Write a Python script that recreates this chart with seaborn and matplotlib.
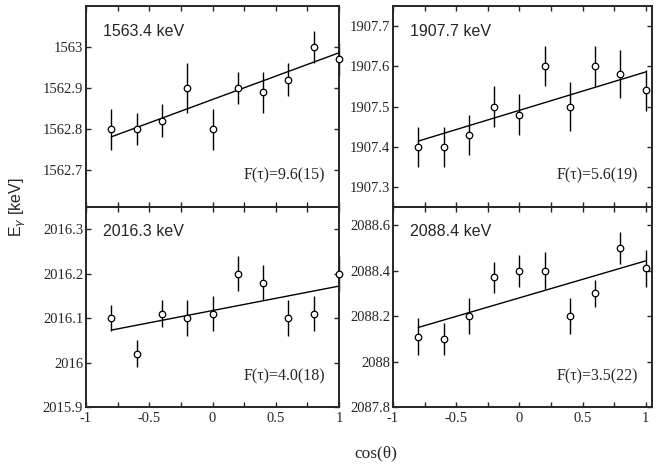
import matplotlib
matplotlib.use("Agg")
import matplotlib.pyplot as plt
from matplotlib.ticker import MultipleLocator
import seaborn as sns
import pandas as pd

# cos(theta) positions of the detector rings
cos_theta = [-0.8, -0.6, -0.4, -0.2, 0.0, 0.2, 0.4, 0.6, 0.8, 1.0]

# measured gamma energies (keV) and errors, one list per line
e_1563 = [1562.80, 1562.80, 1562.82, 1562.90, 1562.80, 1562.90, 1562.89, 1562.92, 1563.00, 1562.97]
err_1563 = [0.05, 0.04, 0.04, 0.06, 0.05, 0.04, 0.05, 0.04, 0.04, 0.04]

e_1907 = [1907.40, 1907.40, 1907.43, 1907.50, 1907.48, 1907.60, 1907.50, 1907.60, 1907.58, 1907.54]
err_1907 = [0.05, 0.05, 0.05, 0.05, 0.05, 0.05, 0.06, 0.05, 0.06, 0.05]

e_2016 = [2016.10, 2016.02, 2016.11, 2016.10, 2016.11, 2016.20, 2016.18, 2016.10, 2016.11, 2016.20]
err_2016 = [0.03, 0.03, 0.03, 0.04, 0.04, 0.04, 0.04, 0.04, 0.04, 0.04]

e_2088 = [2088.11, 2088.10, 2088.20, 2088.37, 2088.40, 2088.40, 2088.20, 2088.30, 2088.50, 2088.41]
err_2088 = [0.08, 0.07, 0.08, 0.07, 0.07, 0.08, 0.08, 0.06, 0.07, 0.08]

# linear fit: energy at cos=-0.8 and at cos=1
fit_x = [-0.8, 1.0]
fit_1563 = [1562.781, 1562.986]
fit_1907 = [1907.414, 1907.586]
fit_2016 = [2016.073, 2016.172]
fit_2088 = [2088.150, 2088.443]

labels = ["1563.4 keV", "1907.7 keV", "2016.3 keV", "2088.4 keV"]
f_tau = ["F(\u03c4)=9.6(15)", "F(\u03c4)=5.6(19)", "F(\u03c4)=4.0(18)", "F(\u03c4)=3.5(22)"]
x_ticks = [-1, -0.5, 0, 0.5, 1]
x_ticklabels = ["-1", "-0.5", "0", "0.5", "1"]

panels = [
    (e_1563, err_1563, fit_1563, (1562.61, 1563.10), [1562.7, 1562.8, 1562.9, 1563.0], ["1562.7", "1562.8", "1562.9", "1563"]),
    (e_1907, err_1907, fit_1907, (1907.25, 1907.75), [1907.3, 1907.4, 1907.5, 1907.6, 1907.7], ["1907.3", "1907.4", "1907.5", "1907.6", "1907.7"]),
    (e_2016, err_2016, fit_2016, (2015.9, 2016.35), [2015.9, 2016.0, 2016.1, 2016.2, 2016.3], ["2015.9", "2016", "2016.1", "2016.2", "2016.3"]),
    (e_2088, err_2088, fit_2088, (2087.8, 2088.68), [2087.8, 2088.0, 2088.2, 2088.4, 2088.6], ["2087.8", "2088", "2088.2", "2088.4", "2088.6"]),
]

sns.set_style("ticks")
serif = ["Liberation Serif", "DejaVu Serif"]
sans = ["Liberation Sans", "DejaVu Sans"]
plt.rcParams['font.family'] = serif

fig = plt.figure(figsize=(6.65, 4.66), dpi=100)
rects = [
    [0.1293, 0.5558, 0.3805, 0.4313],
    [0.5910, 0.5558, 0.3895, 0.4313],
    [0.1293, 0.1266, 0.3805, 0.4292],
    [0.5910, 0.1266, 0.3895, 0.4292],
]

for i, (e, err, fit, ylim, yt, ytl) in enumerate(panels):
    ax = fig.add_axes(rects[i])
    df = pd.DataFrame({"cos": cos_theta, "E": e, "err": err})
    fit_df = pd.DataFrame({"cos": fit_x, "E": fit})
    ax.errorbar(df["cos"], df["E"], yerr=df["err"], fmt="none", ecolor="black",
                elinewidth=1.0, capsize=0, zorder=2, clip_on=False)
    sns.lineplot(data=fit_df, x="cos", y="E", ax=ax, color="black", lw=1.0, zorder=3)
    sns.scatterplot(data=df, x="cos", y="E", ax=ax, marker="o", s=22,
                    facecolor="white", edgecolor="black", linewidth=0.9,
                    zorder=4, clip_on=False)
    right_col = i % 2 == 1
    ax.set_xlim(-1, 1.05 if right_col else 1.0)
    ax.set_ylim(*ylim)
    ax.set_yticks(yt)
    ax.set_yticklabels(ytl)
    ax.set_xticks(x_ticks)
    ax.set_xticklabels(x_ticklabels)
    ax.xaxis.set_minor_locator(MultipleLocator(0.25))
    ax.tick_params(which="both", direction="in", top=True, right=True,
                   length=3.3, width=1.0, labelsize=10.5, pad=2)
    ax.tick_params(axis="x", pad=3.5)
    if i < 2:
        ax.tick_params(labelbottom=False)
    for s in ax.spines.values():
        s.set_linewidth(1.4)
    ax.set_xlabel("")
    ax.set_ylabel("")
    ax.text(0.066, 0.875, labels[i], transform=ax.transAxes, fontsize=11.5,
            family=sans, ha="left", va="center")
    ax.text(0.945, 0.155, f_tau[i], transform=ax.transAxes, fontsize=11.5,
            family=serif, ha="right", va="center")

fig.text(0.027, 0.556, "E$_\\gamma$ [keV]", rotation=90, fontsize=11.5,
         family=sans, ha="center", va="center")
fig.text(0.565, 0.028, "cos(\u03b8)", fontsize=12.5, family=serif,
         ha="center", va="center")

fig.savefig("out.png", dpi=100)
